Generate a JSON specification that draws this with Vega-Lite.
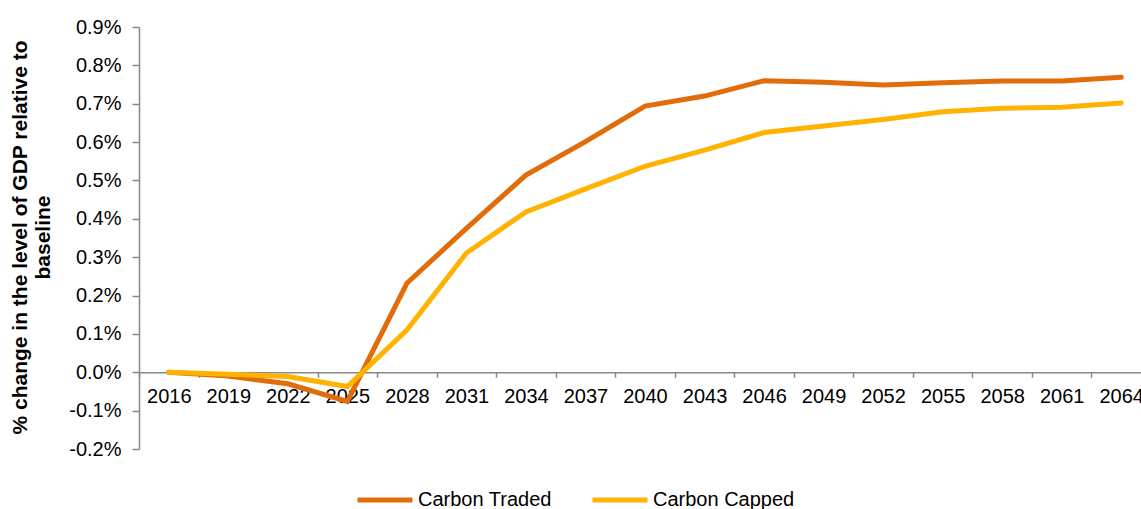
{
  "$schema": "https://vega.github.io/schema/vega-lite/v6.json",
  "width": 1012,
  "height": 422,
  "autosize": {"type": "none"},
  "padding": {"left": 139, "top": 27, "right": 0, "bottom": 60},
  "background": "white",
  "config": {
    "font": "Liberation Sans",
    "view": {"stroke": null}
  },
  "data": {
    "values": [
      {"year": "2016", "series": "Carbon Traded", "value": 0.0},
      {"year": "2019", "series": "Carbon Traded", "value": -0.0001},
      {"year": "2022", "series": "Carbon Traded", "value": -0.0003},
      {"year": "2025", "series": "Carbon Traded", "value": -0.00076},
      {"year": "2028", "series": "Carbon Traded", "value": 0.00232},
      {"year": "2031", "series": "Carbon Traded", "value": 0.00375},
      {"year": "2034", "series": "Carbon Traded", "value": 0.00514},
      {"year": "2037", "series": "Carbon Traded", "value": 0.00601},
      {"year": "2040", "series": "Carbon Traded", "value": 0.00694},
      {"year": "2043", "series": "Carbon Traded", "value": 0.0072},
      {"year": "2046", "series": "Carbon Traded", "value": 0.0076},
      {"year": "2049", "series": "Carbon Traded", "value": 0.00756},
      {"year": "2052", "series": "Carbon Traded", "value": 0.00749},
      {"year": "2055", "series": "Carbon Traded", "value": 0.00755},
      {"year": "2058", "series": "Carbon Traded", "value": 0.00759},
      {"year": "2061", "series": "Carbon Traded", "value": 0.00759},
      {"year": "2064", "series": "Carbon Traded", "value": 0.00769},
      {"year": "2016", "series": "Carbon Capped", "value": 0.0},
      {"year": "2019", "series": "Carbon Capped", "value": -0.00005},
      {"year": "2022", "series": "Carbon Capped", "value": -0.00011},
      {"year": "2025", "series": "Carbon Capped", "value": -0.00037},
      {"year": "2028", "series": "Carbon Capped", "value": 0.0011},
      {"year": "2031", "series": "Carbon Capped", "value": 0.00311},
      {"year": "2034", "series": "Carbon Capped", "value": 0.00418},
      {"year": "2037", "series": "Carbon Capped", "value": 0.00478},
      {"year": "2040", "series": "Carbon Capped", "value": 0.00537},
      {"year": "2043", "series": "Carbon Capped", "value": 0.00579},
      {"year": "2046", "series": "Carbon Capped", "value": 0.00625},
      {"year": "2049", "series": "Carbon Capped", "value": 0.00642},
      {"year": "2052", "series": "Carbon Capped", "value": 0.00659},
      {"year": "2055", "series": "Carbon Capped", "value": 0.00679},
      {"year": "2058", "series": "Carbon Capped", "value": 0.00688},
      {"year": "2061", "series": "Carbon Capped", "value": 0.00691},
      {"year": "2064", "series": "Carbon Capped", "value": 0.00702}
    ]
  },
  "mark": {"type": "line", "strokeWidth": 5, "strokeCap": "round", "strokeJoin": "miter"},
  "encoding": {
    "x": {
      "field": "year",
      "type": "ordinal",
      "bandPosition": 0.5,
      "scale": {"type": "band", "paddingInner": 0, "paddingOuter": 0},
      "axis": {
        "title": null,
        "labelAngle": 0,
        "offset": -76.7,
        "tickBand": "extent",
        "domainColor": "#888888",
        "domainWidth": 1.5,
        "tickColor": "#888888",
        "tickWidth": 1.5,
        "tickSize": 5,
        "labelFontSize": 20,
        "labelColor": "#000000",
        "labelPadding": 9,
        "labelOverlap": false,
        "labelBound": false
      }
    },
    "y": {
      "field": "value",
      "type": "quantitative",
      "scale": {"domain": [-0.002, 0.009], "nice": false, "zero": false},
      "axis": {
        "format": ".1%",
        "labelExpr": "replace(datum.label, '−', '-')",
        "values": [-0.002, -0.001, 0, 0.001, 0.002, 0.003, 0.004, 0.005, 0.006, 0.007, 0.008, 0.009],
        "grid": false,
        "domainColor": "#888888",
        "domainWidth": 1.5,
        "tickColor": "#888888",
        "tickWidth": 1.5,
        "tickSize": 7,
        "labelFontSize": 20,
        "labelColor": "#000000",
        "labelPadding": 11,
        "title": ["% change in the level of GDP relative to", "baseline"],
        "titleFontSize": 21,
        "titleFontWeight": "bold",
        "titleColor": "#000000",
        "titleLineHeight": 23,
        "titleAngle": -90,
        "titleBaseline": "bottom",
        "titleX": -109,
        "titleY": 210
      }
    },
    "color": {
      "field": "series",
      "type": "nominal",
      "scale": {"domain": ["Carbon Traded", "Carbon Capped"], "range": ["#E26B0A", "#FFB300"]},
      "legend": {
        "title": null,
        "orient": "none",
        "direction": "horizontal",
        "legendX": 216,
        "legendY": 443,
        "symbolType": "stroke",
        "symbolSize": 3025,
        "symbolStrokeWidth": 5,
        "labelFontSize": 20,
        "labelColor": "#000000",
        "labelOffset": 3,
        "columnPadding": 30
      }
    }
  }
}
